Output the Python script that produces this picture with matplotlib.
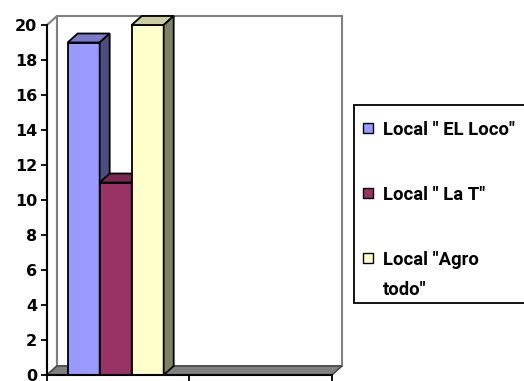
import matplotlib
matplotlib.use('Agg')
import matplotlib.pyplot as plt
from matplotlib.patches import Polygon, Rectangle

# data
labels = ['Local " EL Loco"', 'Local " La T"', 'Local "Agro\ntodo"']
values = [19, 11, 20]
front_colors = ['#9999FF', '#993366', '#FFFFCC']
top_colors = ['#7a7acc', '#7a2952', '#cccca3']
side_colors = ['#4d4d80', '#4d1a33', '#808066']
yticks = list(range(0, 21, 2))

W, H = 524, 381
fig = plt.figure(figsize=(W / 100, H / 100), dpi=100)
ax = fig.add_axes([47 / W, 6 / H, 285 / W, 350 / H])
ax.set_xlim(0, 2)
ax.set_ylim(0, 20)

# depth offset of the 3d box, in data units
ddx = 10 / 285 * 2
ddy = 9 / 17.5

def poly(pts, fc, ec='black', lw=1.3, z=2):
    ax.add_patch(Polygon(pts, closed=True, facecolor=fc, edgecolor=ec,
                         linewidth=lw, zorder=z, clip_on=False,
                         joinstyle='miter'))

# walls and floor
poly([(0, 0), (0, 20), (ddx, 20 + ddy), (ddx, ddy)], 'white', '#808080', 1.5, 1)
poly([(ddx, ddy), (ddx, 20 + ddy), (2 + ddx, 20 + ddy), (2 + ddx, ddy)],
     'white', '#808080', 1.5, 1)
poly([(0, 0), (2, 0), (2 + ddx, ddy), (ddx, ddy)], '#808080', '#404040', 1.0, 1.5)

# bars
bw = 0.2246
x0 = 0.145
for i, v in enumerate(values):
    xl = x0 + i * bw
    xr = xl + bw
    poly([(xl, 0), (xl, v), (xr, v), (xr, 0)], front_colors[i])
    poly([(xl, v), (xl + ddx, v + ddy), (xr + ddx, v + ddy), (xr, v)], top_colors[i])
    poly([(xr, 0), (xr, v), (xr + ddx, v + ddy), (xr + ddx, ddy)], side_colors[i])

# axes
for s in ['top', 'right']:
    ax.spines[s].set_visible(False)
ax.spines['left'].set_linewidth(1.5)
ax.spines['bottom'].set_linewidth(1.5)
ax.spines['left'].set_zorder(3)
ax.spines['bottom'].set_zorder(3)
ax.set_yticks(yticks)
ax.set_xticks([0, 1, 2])
ax.set_xticklabels([])
ax.tick_params(axis='both', direction='out', length=4, width=1.3, pad=3)
for t in ax.get_yticklabels():
    t.set_fontweight('bold')
    t.set_fontsize(11.5)
    t.set_fontfamily('DejaVu Sans')
ax.patch.set_visible(False)

# legend (drawn by hand, box runs past the right edge like the original)
def fx(px):
    return px / W

def fy(py):
    return 1 - py / H

fig.patches.append(Rectangle((fx(354), fy(303)), fx(540) - fx(354), fy(105) - fy(303),
                             transform=fig.transFigure, facecolor='white',
                             edgecolor='black', linewidth=1.3, zorder=5))
marker_y = [128, 193, 258]
baselines = [135, 200, 265]
msz = 10
for i, lab in enumerate(labels):
    fig.patches.append(Rectangle((fx(363), fy(marker_y[i] + msz / 2)), msz / W, msz / H,
                                 transform=fig.transFigure, facecolor=front_colors[i],
                                 edgecolor='black', linewidth=1.0, zorder=6))
    for j, line in enumerate(lab.split('\n')):
        fig.text(fx(383), fy(baselines[i] + 30 * j), line, ha='left', va='baseline',
                 fontsize=13.3, fontweight='bold', family='Roboto', zorder=6)

fig.savefig('out.png', dpi=100)
